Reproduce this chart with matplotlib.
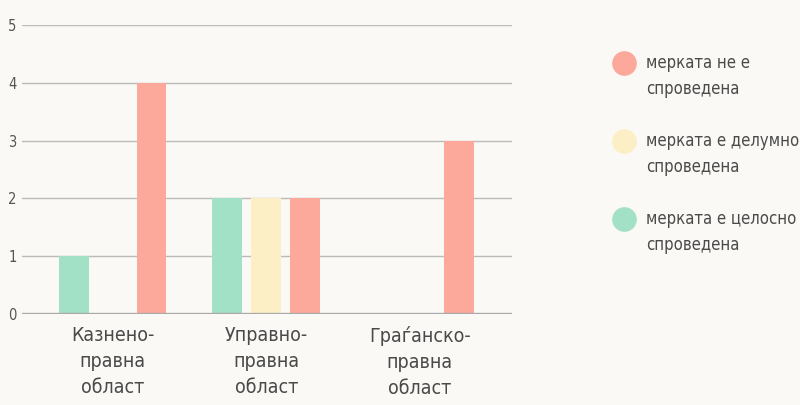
import numpy as np
import matplotlib.pyplot as plt

categories = ['Казнено-\nправна\nобласт', 'Управно-\nправна\nобласт', 'Граѓанско-\nправна\nобласт']
series = ['мерката не е\nспроведена', 'мерката е делумно\nспроведена', 'мерката е целосно\nспроведена']
full = [1, 2, 0]
partial = [0, 2, 0]
none = [4, 2, 3]

c_none = '#fca89a'
c_partial = '#fcefc6'
c_full = '#a3e1c6'
bg = '#faf9f5'

plt.rcParams['font.family'] = ['DejaVu Sans']
plt.rcParams['font.stretch'] = 'condensed'

fig = plt.figure(figsize=(8, 4.05), dpi=100, facecolor=bg)
ax = fig.add_axes([0.0275, 0.2247, 0.6125, 0.7136], facecolor=bg)

x = np.arange(len(categories))
off = 0.253
w = 0.195
ax.bar(x - off, full, w, color=c_full, zorder=3)
ax.bar(x, partial, w, color=c_partial, zorder=3)
ax.bar(x + off, none, w, color=c_none, zorder=3)

ax.set_xlim(-0.59, 2.6)
ax.set_ylim(0, 5)
ax.set_yticks(range(6))
for y in range(1, 6):
    ax.axhline(y, color='#bbbbbb', lw=1, zorder=1)
ax.axhline(0, color='#a9a9a9', lw=2.4, zorder=4)
for s in ax.spines.values():
    s.set_visible(False)
ax.tick_params(axis='y', length=0, pad=4, labelsize=10.5, labelcolor='#555555')
ax.tick_params(axis='x', length=0, pad=9, labelsize=14, labelcolor='#4a4a4a')
ax.set_xticks(x)
ax.set_xticklabels(categories, linespacing=1.45)

colors = [c_none, c_partial, c_full]
ys = [63, 141, 219]
for lab, col, yp in zip(series, colors, ys):
    fy = 1 - yp / 405
    ax.scatter([624 / 800], [fy], s=280, color=col, transform=fig.transFigure, clip_on=False, zorder=5)
    fig.text(646 / 800, fy + 9 / 405, lab, va='top', ha='left', fontsize=12, color='#4a4a4a', linespacing=1.6)

fig.savefig('out.png', dpi=100, facecolor=bg)
